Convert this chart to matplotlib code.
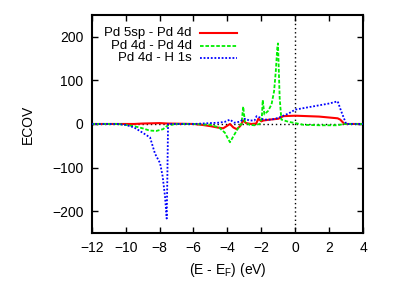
import matplotlib
matplotlib.use('Agg')
import matplotlib.pyplot as plt

# Crystal orbital overlap (ECOV) curves
red_x = [-12, -9.5, -9, -8, -7.5, -6, -5.5, -5, -4.6, -4.25, -4.05, -3.85, -3.65, -3.45,
         -3.25, -3.07, -2.9, -2.6, -2.3, -2.18, -2.0, -1.88, -1.5, -1.0, -0.7, 0, 1.4, 2.5,
         2.65, 2.9, 4]
red_y = [0, 0, 1, 2, 1, 0, -2, -5, -8, -10, -5, 0, -8, -12, -5, 8, 2, 0, 1, 12, 6, 8,
         10, 12, 18, 19, 17, 13, 10, 0, 0]

green_x = [-12, -10.5, -10, -9.5, -9, -8.6, -8.2, -7.8, -7.5, -7, -6, -5, -4.5, -4.15,
           -3.85, -3.6, -3.3, -3.17, -3.07, -2.97, -2.7, -2.4, -2.1, -1.97, -1.92, -1.82,
           -1.6, -1.4, -1.25, -1.15, -1.06, -1.02, -0.92, -0.82, -0.4, 0, 0.5, 1.5, 2.5,
           2.85, 4]
green_y = [0, 0, -2, -5, -10, -15, -16, -12, -3, 0, 0, -2, -8, -20, -42, -25, -5, 0, 40,
           5, -2, -3, 0, 15, 55, 22, 30, 45, 75, 120, 175, 185, 60, 10, 5, 2, -2, -3, -3,
           0, 0]

blue_x = [-12, -10.5, -10, -9.5, -9, -8.56, -8.27, -7.97, -7.82, -7.68, -7.58, -7.54,
          -7.5, -7.0, -6, -5, -4.5, -4.15, -3.85, -3.6, -3.3, -2.97, -2.7, -2.4, -2.28,
          -2.1, -1.88, -1.4, -1.0, -0.4, 0, 1, 2, 2.5, 2.7, 3.0, 4]
blue_y = [0, 0, -2, -8, -20, -31, -68, -90, -120, -166, -217, -120, 0, 0, 0, 2, 3, 5, 10,
          3, 5, 12, 8, 8, 18, 15, 10, 10, 14, 24, 33, 40, 47, 52, 30, 0, 0]

labels = ['Pd 5sp - Pd 4d', 'Pd 4d - Pd 4d', 'Pd 4d - H 1s']
x_ticks = [-12, -10, -8, -6, -4, -2, 0, 2, 4]
y_ticks = [-200, -100, 0, 100, 200]

plt.rcParams['font.family'] = ['Liberation Sans', 'DejaVu Sans']
plt.rcParams['font.size'] = 10

fig = plt.figure(figsize=(4.15, 2.9), dpi=100)
ax = fig.add_axes([0.221, 0.197, 0.654, 0.751])

# gnuplot style zero axes
ax.axhline(0, color='black', ls=(0, (1, 2)), lw=1.0, zorder=1)
ax.axvline(0, color='black', ls=(0, (1, 2)), lw=1.0, zorder=1)

styles = [
    dict(color='#ff0000', ls='-', lw=1.5),
    dict(color='#00ee00', ls=(0, (2, 1)), lw=1.3),
    dict(color='#0000ff', ls=(0, (1, 1)), lw=1.3),
]
series = [(red_x, red_y), (green_x, green_y), (blue_x, blue_y)]
for (xs, ys), st in zip(series, styles):
    ax.plot(xs, ys, zorder=3, **st)

# gnuplot-like legend: right-aligned text, sample to the right
for i, (lab, st) in enumerate(zip(labels, styles)):
    y = 0.918 - i * 0.058
    ax.text(0.369, y, lab, transform=ax.transAxes, ha='right', va='center',
            fontsize=9.5)
    ax.plot([0.399, 0.534], [y, y], transform=ax.transAxes, **st)

ax.set_xlim(-12, 4)
ax.set_ylim(-250, 250)
ax.set_xticks(x_ticks)
ax.set_yticks(y_ticks)
ax.tick_params(direction='in', top=True, right=True, length=4, width=1, pad=6)
for s in ax.spines.values():
    s.set_linewidth(1.5)

ax.set_xlabel('(E - E$_\\mathregular{F}$) (eV)', labelpad=4)
ax.set_ylabel('ECOV', labelpad=12)

fig.savefig('out.png', dpi=100)
